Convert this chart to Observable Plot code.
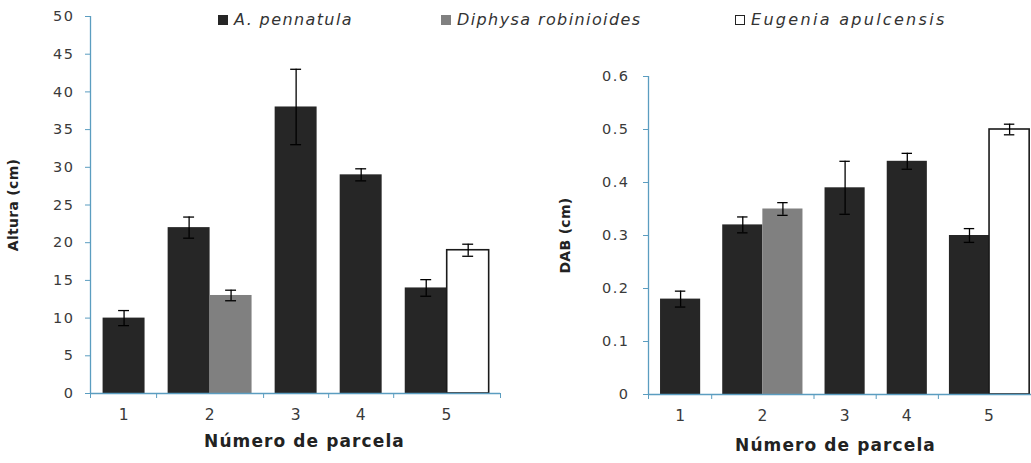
<!DOCTYPE html>
<html>
<head>
<meta charset="utf-8">
<script src="https://cdn.jsdelivr.net/npm/d3@7"></script>
<script src="https://cdn.jsdelivr.net/npm/@observablehq/plot@0.6"></script>
<style>
  html, body { margin: 0; padding: 0; background: #fff; }
  #wrap { position: relative; width: 1031px; height: 463px; overflow: hidden; font-family: "DejaVu Sans", sans-serif; }
  .panel { position: absolute; top: 0; }
  .legend-item { position: absolute; top: 10px; font-style: italic; font-size: 16px; letter-spacing: 1.4px; color: #333; white-space: nowrap; display: flex; align-items: center; }
  .legend-item.wide { letter-spacing: 2.3px; }
  .swatch { display: inline-block; width: 10px; height: 10px; margin-right: 6px; box-sizing: border-box; }
</style>
</head>
<body>
<div id="wrap"></div>
<script>
// ---- Data ----
const categories = ["1", "2", "3", "4", "5"];
const species = ["A. pennatula", "Diphysa robinioides", "Eugenia apulcensis"];
const speciesColors = ["#262626", "#808080", "#ffffff"];

// Altura (cm): mean and error per plot (null = species absent)
const alturaPennatula = [10, 22, 38, 29, 14];
const alturaPennatulaErr = [1.0, 1.4, 5.0, 0.8, 1.1];
const alturaDiphysa = [null, 13, null, null, null];
const alturaDiphysaErr = [null, 0.7, null, null, null];
const alturaEugenia = [null, null, null, null, 19];
const alturaEugeniaErr = [null, null, null, null, 0.8];

// DAB (cm)
const dabPennatula = [0.18, 0.32, 0.39, 0.44, 0.30];
const dabPennatulaErr = [0.015, 0.015, 0.05, 0.015, 0.013];
const dabDiphysa = [null, 0.35, null, null, null];
const dabDiphysaErr = [null, 0.012, null, null, null];
const dabEugenia = [null, null, null, null, 0.50];
const dabEugeniaErr = [null, null, null, null, 0.01];

const alturaTicks = [0, 5, 10, 15, 20, 25, 30, 35, 40, 45, 50];
const dabTicks = [0, 0.1, 0.2, 0.3, 0.4, 0.5, 0.6];
const xTitle = "Número de parcela";

// ---- Layout constants (in bar-width units) ----
const GAP = 0.55, EDGE_L = 0.3, EDGE_R = 0.27, CAP = 0.13;
const axisColor = "#5b9dc0";
const textColor = "#3a3a3a";

function buildRows(valueSets, errSets) {
  const rows = [];
  const groups = [];
  let pos = EDGE_L;
  categories.forEach((cat, i) => {
    const start = pos;
    species.forEach((sp, s) => {
      const v = valueSets[s][i];
      if (v == null) return;
      rows.push({cat, species: sp, value: v, err: errSets[s][i], x1: pos, x2: pos + 1, xc: pos + 0.5});
      pos += 1;
    });
    groups.push({cat, start, end: pos, center: (start + pos) / 2});
    if (i < categories.length - 1) pos += GAP;
  });
  const total = pos + EDGE_R;
  const bounds = [0];
  for (let i = 0; i < groups.length - 1; i++) bounds.push((groups[i].end + groups[i + 1].start) / 2);
  bounds.push(total);
  return {rows, groups, total, bounds};
}

function panel({valueSets, errSets, yDomain, yTicks, yFormat, yLabel, width, marginLeft, marginRight, marginTop, marginBottom, yLabelOffset, tickPadding, xLabelDx, xLabelDy}) {
  const {rows, groups, total, bounds} = buildRows(valueSets, errSets);
  const barMarks = species.map((sp, s) => Plot.rectY(rows.filter(d => d.species === sp), {
    x1: "x1", x2: "x2", y: "value",
    fill: speciesColors[s],
    stroke: s === 2 ? "#1a1a1a" : "none",
    strokeWidth: 1.6
  }));
  const svg = Plot.plot({
    width, height: 463, marginLeft, marginRight, marginTop, marginBottom,
    style: {fontFamily: "DejaVu Sans, sans-serif", background: "transparent", overflow: "visible"},
    x: {domain: [0, total], axis: null},
    y: {domain: yDomain, axis: null},
    marks: [
      ...barMarks,
      // error bars
      Plot.ruleX(rows, {x: "xc", y1: d => d.value - d.err, y2: d => d.value + d.err, stroke: "#000", strokeWidth: 1.3}),
      Plot.ruleY(rows, {y: d => d.value + d.err, x1: d => d.xc - CAP, x2: d => d.xc + CAP, stroke: "#000", strokeWidth: 1.3}),
      Plot.ruleY(rows, {y: d => d.value - d.err, x1: d => d.xc - CAP, x2: d => d.xc + CAP, stroke: "#000", strokeWidth: 1.3}),
      // axes
      Plot.ruleX([0], {stroke: axisColor, strokeWidth: 1.3}),
      Plot.ruleY([yDomain[0]], {stroke: axisColor, strokeWidth: 1.3}),
      Plot.axisY({ticks: yTicks, tickFormat: yFormat, tickSize: 5, tickPadding, stroke: axisColor, color: textColor, fontSize: 14.5, label: null}),
      Plot.axisX({ticks: bounds, tickFormat: () => "", tickSize: 5, stroke: axisColor, label: null}),
      Plot.text(groups, {x: "center", y: () => yDomain[0], text: "cat", dy: 22, fontSize: 15.5, fill: textColor}),
      Plot.text([yLabel], {frameAnchor: "left", textAnchor: "middle", dx: -yLabelOffset, rotate: -90, fontSize: 14, fontWeight: "bold", fill: "#222"}),
      Plot.text([xTitle], {frameAnchor: "bottom", dx: xLabelDx, dy: xLabelDy, fontSize: 17, fontWeight: "bold", fill: "#222"})
    ]
  });
  // letter spacing to match the reference's wide lettering
  const yTickSet = new Set(yTicks.map(yFormat));
  d3.select(svg).selectAll("text").each(function () {
    const t = this.textContent;
    let ls = null;
    if (t === xTitle) ls = "1.1px";
    else if (t === yLabel) ls = "0.3px";
    else if (categories.includes(t) && !yTickSet.has(t)) ls = "1px";
    else if (yTickSet.has(t)) ls = "1.5px";
    if (ls) this.setAttribute("letter-spacing", ls);
  });
  return svg;
}

const wrap = document.getElementById("wrap");

const left = panel({
  valueSets: [alturaPennatula, alturaDiphysa, alturaEugenia],
  errSets: [alturaPennatulaErr, alturaDiphysaErr, alturaEugeniaErr],
  yDomain: [0, 50], yTicks: alturaTicks, yFormat: d => String(d), yLabel: "Altura (cm)",
  width: 520, marginLeft: 90, marginRight: 20, marginTop: 16, marginBottom: 70,
  yLabelOffset: 77, tickPadding: 11, xLabelDx: 9, xLabelDy: 53
});
left.classList.add("panel");
left.style.left = "0px";
wrap.appendChild(left);

const right = panel({
  valueSets: [dabPennatula, dabDiphysa, dabEugenia],
  errSets: [dabPennatulaErr, dabDiphysaErr, dabEugeniaErr],
  yDomain: [0, 0.6], yTicks: dabTicks, yFormat: d => d === 0 ? "0" : d.toFixed(1), yLabel: "DAB (cm)",
  width: 520, marginLeft: 128, marginRight: 0, marginTop: 76, marginBottom: 69,
  yLabelOffset: 83, tickPadding: 14, xLabelDx: -9, xLabelDy: 56
});
right.classList.add("panel");
right.style.left = "520px";
wrap.appendChild(right);

// ---- Legend ----
const legendLeft = [218, 441, 735];
species.forEach((sp, s) => {
  const item = document.createElement("div");
  item.className = "legend-item" + (s === 2 ? " wide" : "");
  item.style.left = legendLeft[s] + "px";
  const sw = document.createElement("span");
  sw.className = "swatch";
  sw.style.background = speciesColors[s];
  sw.style.border = "1.2px solid " + (s === 2 ? "#222" : speciesColors[s]);
  item.appendChild(sw);
  item.appendChild(document.createTextNode(sp));
  wrap.appendChild(item);
});
</script>
</body>
</html>
